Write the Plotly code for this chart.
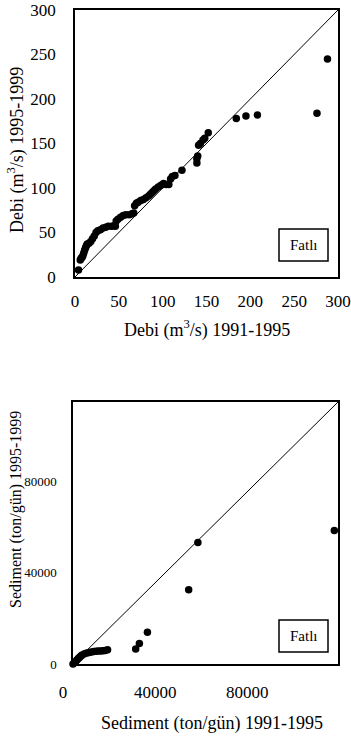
import plotly.graph_objects as go

W, H = 351, 737

# ---- Data: Debi (m3/s) ----
debi_x = [4, 6, 7, 8, 9, 10, 11, 12, 13, 14, 16, 18, 20, 22, 24, 26, 29, 32, 35, 38, 42, 45, 46,
          47, 49, 52, 55, 58, 62, 65, 67, 68, 70, 72, 75, 78, 81, 84, 86, 88, 90, 92, 95, 98,
          101, 104, 107, 109, 111, 114, 122, 139, 139, 140, 141, 143, 146, 148, 152,
          184, 195, 208, 276, 288]
debi_y = [8, 19, 21, 22, 24, 27, 30, 33, 35, 37, 38, 40, 43, 46, 50, 52, 53, 55, 56, 57, 57, 58, 57,
          63, 65, 67, 69, 70, 70, 71, 72, 80, 83, 84, 86, 87, 89, 91, 93, 95, 97, 99, 101, 103,
          105, 104, 104, 110, 113, 114, 120, 128, 133, 136, 148, 150, 154, 156, 162,
          178, 181, 182, 184, 245]
debi_line = [0, 300]
debi_ticks = [0, 50, 100, 150, 200, 250, 300]

# ---- Data: Sediment (ton/gün) ----
sed_x = [0, 500, 1000, 1500, 2000, 2500, 3000, 3500, 4000, 5000, 6000, 7000, 8000, 9000, 10000,
         11000, 12000, 13000, 14000, 15000, 27200, 28800, 32300, 50200, 54200, 113400]
sed_y = [0, 400, 900, 1500, 2100, 2600, 3100, 3600, 4000, 4500, 4800, 5100, 5300, 5500, 5600,
         5700, 5700, 5800, 5900, 6200, 6600, 9000, 13900, 32600, 53300, 58600]
sed_line = [0, 115000]
sed_ticks = [0, 40000, 80000]

FONT = "Liberation Serif"

def px(x):
    return x / W

def py(y):
    return 1 - y / H

fig = go.Figure()

marker = dict(color="black", size=7.5, line=dict(width=0))

fig.add_trace(go.Scatter(x=debi_line, y=debi_line, mode="lines",
                         line=dict(color="black", width=1), xaxis="x", yaxis="y",
                         showlegend=False, hoverinfo="skip"))
fig.add_trace(go.Scatter(x=debi_x, y=debi_y, mode="markers", marker=marker,
                         xaxis="x", yaxis="y", showlegend=False, cliponaxis=False))
fig.add_trace(go.Scatter(x=sed_line, y=sed_line, mode="lines",
                         line=dict(color="black", width=1), xaxis="x2", yaxis="y2",
                         showlegend=False, hoverinfo="skip"))
fig.add_trace(go.Scatter(x=sed_x, y=sed_y, mode="markers", marker=marker,
                         xaxis="x2", yaxis="y2", showlegend=False, cliponaxis=False))

axis_common = dict(showgrid=False, zeroline=False, showline=True, linecolor="black",
                   linewidth=1.5, mirror=True, ticks="", color="black", automargin=False)

def tf(size):
    return dict(family=FONT, size=size, color="black")

fig.update_layout(
    width=W, height=H,
    margin=dict(l=0, r=0, t=0, b=0, autoexpand=False),
    paper_bgcolor="white", plot_bgcolor="white",
    font=dict(family=FONT, color="black"),
    xaxis=dict(axis_common, domain=[px(75), px(338)], range=[0, 300], tickvals=debi_ticks,
               anchor="y", tickfont=tf(17), ticklabelstandoff=8),
    yaxis=dict(axis_common, domain=[py(277), py(10)], range=[0, 300], tickvals=debi_ticks,
               anchor="x", tickfont=tf(17), ticklabelstandoff=14),
    xaxis2=dict(axis_common, domain=[px(73), px(338)], range=[0, 115000], tickvals=sed_ticks,
                anchor="y2", tickfont=tf(17), ticklabelstandoff=12,
                ticklabelshift=-10, tickformat="d"),
    yaxis2=dict(axis_common, domain=[py(664), py(402)], range=[0, 115000], tickvals=sed_ticks,
                anchor="x2", tickfont=tf(13), ticklabelstandoff=12, tickformat="d"),
)

ann = []
ann.append(dict(text="Debi (m<sup>3</sup>/s) 1991-1995", x=px(207), y=py(329), xref="paper",
                yref="paper", showarrow=False, font=tf(18), xanchor="center",
                yanchor="middle"))
ann.append(dict(text="Debi (m<sup>3</sup>/s) 1995-1999", x=px(16), y=py(150), xref="paper",
                yref="paper", showarrow=False, font=tf(18), textangle=-90,
                xanchor="center", yanchor="middle"))
ann.append(dict(text="Sediment (ton/gün) 1991-1995", x=px(212), y=py(723), xref="paper",
                yref="paper", showarrow=False, font=tf(18), xanchor="center",
                yanchor="middle"))
ann.append(dict(text="Sediment (ton/gün) 1995-1999", x=px(16), y=py(510), xref="paper",
                yref="paper", showarrow=False, font=tf(16), textangle=-90,
                xanchor="center", yanchor="middle"))
ann.append(dict(text="Fatlı", x=px(304), y=py(245), xref="paper", yref="paper",
                showarrow=False, font=tf(15), xanchor="center", yanchor="middle"))
ann.append(dict(text="Fatlı", x=px(304), y=py(636), xref="paper", yref="paper",
                showarrow=False, font=tf(15), xanchor="center", yanchor="middle"))

shapes = [
    dict(type="rect", xref="paper", yref="paper", x0=px(279), x1=px(328), y0=py(261), y1=py(229),
         line=dict(color="black", width=1.5), fillcolor="rgba(0,0,0,0)", layer="above"),
    dict(type="rect", xref="paper", yref="paper", x0=px(279), x1=px(328), y0=py(652), y1=py(620),
         line=dict(color="black", width=1.5), fillcolor="rgba(0,0,0,0)", layer="above"),
]

fig.update_layout(annotations=ann, shapes=shapes)
fig.write_html(
    "out.html",
    config={"displayModeBar": False},
    post_script="document.body.style.margin='0';document.body.style.overflow='hidden';",
)
